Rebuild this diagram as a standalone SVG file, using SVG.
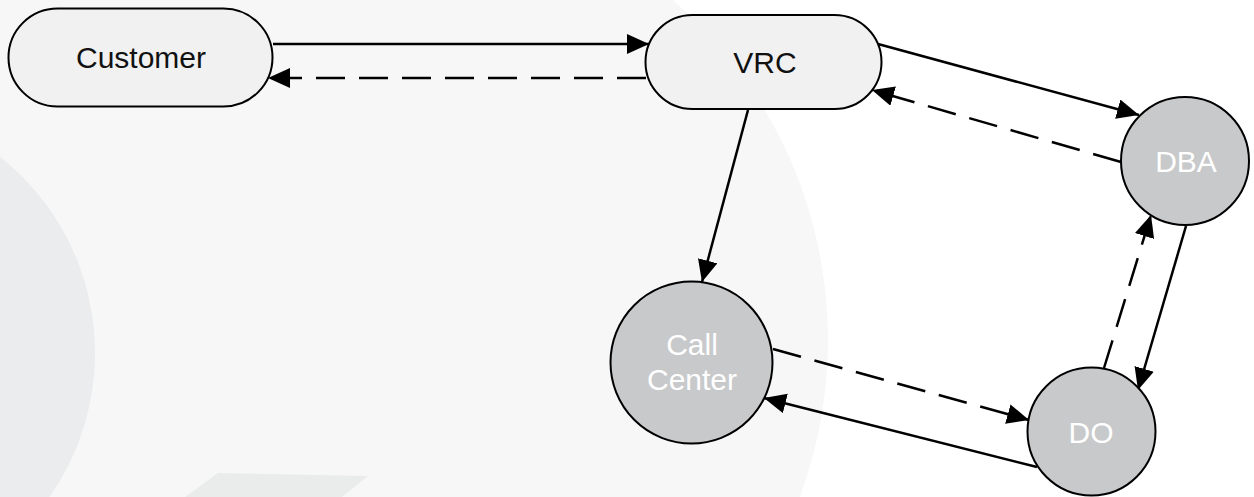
<svg xmlns="http://www.w3.org/2000/svg" width="1254" height="497" viewBox="0 0 1254 497">
  <style>
    .pill { fill: #f1f1f1; stroke: #000; stroke-width: 2; }
    .disc { fill: #c8c9cb; stroke: #000; stroke-width: 2; }
    .dark { font-family: "Liberation Sans", Arial, sans-serif; font-size: 30px; fill: #111; text-anchor: middle; }
    .light { font-family: "Liberation Sans", Arial, sans-serif; font-size: 30px; fill: #fff; text-anchor: middle; }
    .edge { fill: none; stroke: #000; stroke-width: 2.5; marker-end: url(#head); }
    .dash { stroke-dasharray: 29 14; }
  </style>
  <defs>
    <marker id="head" markerUnits="userSpaceOnUse" markerWidth="23" markerHeight="21" refX="22" refY="10" orient="auto">
      <path d="M0,0 L22,10 L0,20 Z" fill="#000"/>
    </marker>
  </defs>

  <!-- backdrop: pale field on the left bounded by a wide arc, plus two faint shapes -->
  <g id="backdrop">
    <rect width="1254" height="497" fill="#fff"/>
    <path d="M0,0 H672.8 A450 450 0 0 1 799.7 497 H0 Z" fill="#f7f7f7"/>
    <circle cx="-155" cy="353" r="250" fill="#ebeced"/>
    <polygon points="218,473 368,476 342,497 185,497" fill="#eaebeb"/>
  </g>

  <!-- connectors -->
  <g id="connectors">
    <line class="edge" x1="273" y1="44" x2="649" y2="44"/>
    <line class="edge dash" x1="646" y1="78" x2="268" y2="78"/>
    <line class="edge" x1="878" y1="44" x2="1139" y2="115"/>
    <line class="edge dash" x1="1121" y1="162" x2="872" y2="90"/>
    <line class="edge" x1="748" y1="110" x2="702" y2="282"/>
    <line class="edge dash" x1="773" y1="349" x2="1029" y2="420"/>
    <line class="edge" x1="1037" y1="467" x2="764" y2="398"/>
    <line class="edge dash" x1="1104" y1="368" x2="1151" y2="215"/>
    <line class="edge" x1="1186" y1="226" x2="1138" y2="390"/>
  </g>

  <g id="customer">
    <rect class="pill" x="8.5" y="8.5" width="264" height="98" rx="49" ry="49"/>
    <text class="dark" x="141" y="68">Customer</text>
  </g>

  <g id="vrc">
    <rect class="pill" x="645.5" y="15" width="236" height="94" rx="47" ry="47"/>
    <text class="dark" x="765" y="73">VRC</text>
  </g>

  <g id="dba">
    <circle class="disc" cx="1185" cy="161" r="64"/>
    <text class="light" x="1186" y="172">DBA</text>
  </g>

  <g id="call-center">
    <circle class="disc" cx="691.5" cy="362.5" r="81"/>
    <text class="light" x="692" y="355">Call</text>
    <text class="light" x="692" y="390">Center</text>
  </g>

  <g id="do">
    <circle class="disc" cx="1091.5" cy="431.5" r="64"/>
    <text class="light" x="1091" y="443">DO</text>
  </g>
</svg>
